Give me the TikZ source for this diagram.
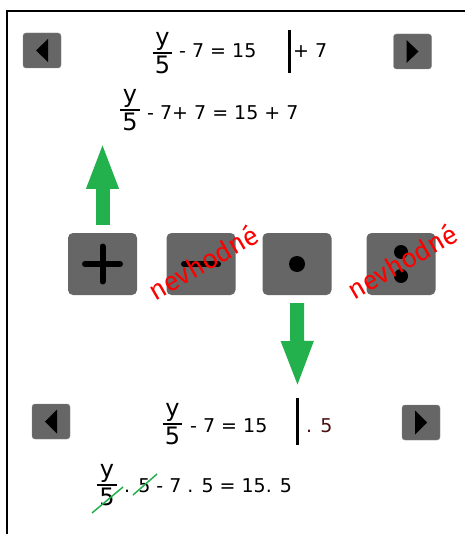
\documentclass[tikz,border=0pt]{standalone}
\usepackage{fontspec}
\setmainfont{DejaVu Sans}
\newfontfamily\handfont{Fira Sans}
\usetikzlibrary{arrows.meta}
\definecolor{btngray}{HTML}{666666}
\definecolor{okgreen}{HTML}{22B14C}
\definecolor{badred}{HTML}{FF0000}
\definecolor{multred}{HTML}{4A1010}

\begin{document}
\begin{tikzpicture}[x=1pt, y=-1pt,
    navbtn/.style={draw=btngray!80!white, fill=btngray, rounded corners=3pt, minimum width=38pt, minimum height=35pt, inner sep=0pt},
    opbtn/.style={fill=btngray, rounded corners=5pt, minimum width=69pt, minimum height=62pt, inner sep=0pt},
    eq/.style={font=\fontsize{19}{22}\selectfont, inner sep=0pt, anchor=base west},
    frac/.style={font=\fontsize{24}{28}\selectfont, align=center, inner xsep=2pt, inner ysep=0pt},
    fracbar/.style={line width=1.3pt},
    sepbar/.style={line width=3pt},
    nevh/.style={text=badred, font=\handfont\fontsize{27}{30}\selectfont, rotate=30},
    garrow/.style={okgreen, line width=14pt, -{Triangle[width=29pt, length=47pt]}},
    strike/.style={okgreen, line width=1.5pt},
    sym/.style={line width=6pt, line cap=round}]
  \useasboundingbox (0,0) rectangle (465,534);
  % frame
  \draw[line width=2pt] (465,11) -- (7,11) -- (7,534);

  % navigation buttons
  \node[navbtn] (navtl) at (42,50.5) {};
  \node[navbtn] (navtr) at (412.5,51.5) {};
  \node[navbtn] (navbl) at (51,421.5) {};
  \node[navbtn] (navbr) at (421,422.5) {};
  \fill (navtl.center) ++(-6,0) -- ++(12,-11.5) -- ++(0,23) -- cycle;
  \fill (navbl.center) ++(-6,0) -- ++(12,-12) -- ++(0,24) -- cycle;
  \fill (navtr.center) ++(6,0) -- ++(-12,-11.5) -- ++(0,23) -- cycle;
  \fill (navbr.center) ++(6,0) -- ++(-12,-12) -- ++(0,24) -- cycle;

  % first equation
  \node[frac] (fa) at (162.5,53) {y\\5};
  \draw[fracbar] (fa.west) -- (fa.east);
  \node[eq] (ea) at (179,58) {- 7 = 15};
  \draw[sepbar] (289,30) -- (289,73);
  \node[eq] (eaop) at (293,58) {+ 7};
  \node[frac] (fb) at (130,110) {y\\5};
  \draw[fracbar] (fb.west) -- (fb.east);
  \node[eq] (eb) at (147,120) {- 7+ 7 = 15 + 7};

  % operation buttons
  \node[opbtn] (plus) at (102.5,264) {};
  \node[opbtn] (minus) at (201,264) {};
  \node[opbtn] (dot) at (297,264) {};
  \node[opbtn] (div) at (401,264) {};
  \draw[sym] (plus.center) ++(-17.5,0) -- ++(35,0);
  \draw[sym] (plus.center) ++(0,-17.5) -- ++(0,35);
  \draw[sym] (minus.center) ++(-17,0) -- ++(34,0);
  \fill (dot.center) circle[radius=8];
  \fill (div.center) ++(0,-12) circle[radius=7];
  \fill (div.center) ++(0,12) circle[radius=7];
  \node[nevh] (bad1) at (203,262) {nevhodné};
  \node[nevh] (bad2) at (402,261) {nevhodné};

  % arrows
  \coordinate (uptip) at (102.5,142);
  \coordinate (downtip) at (297.5,388);
  \draw[garrow, shorten <=8pt] (plus.north) -- (uptip);
  \draw[garrow, shorten <=8pt] (dot.south) -- (downtip);

  % second equation
  \node[frac] (fc) at (172.5,424) {y\\5};
  \draw[fracbar] (fc.west) -- (fc.east);
  \node[eq] (ec) at (190,432) {- 7 = 15};
  \draw[sepbar] (297,398) -- (297,445);
  \node[eq, text=multred] (ecop) at (306,432) {. 5};
  \node[frac] (fd) at (107,485) {y\\5};
  \draw[fracbar] (fd.west) -- (fd.east);
  \node[eq] (ed) at (124,492) {. 5 - 7 . 5 = 15. 5};
  \draw[strike] (92,513) -- (123,487);
  \draw[strike] (133,495) -- (157,474);
\end{tikzpicture}
\end{document}
